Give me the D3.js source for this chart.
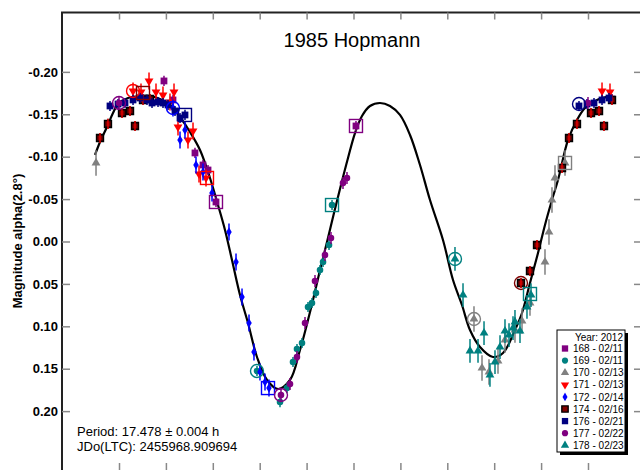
<!DOCTYPE html>
<html><head><meta charset="utf-8">
<script src="https://cdn.jsdelivr.net/npm/d3@7/dist/d3.min.js"></script>
<style>html,body{margin:0;padding:0;background:#fff;overflow:hidden}svg{display:block;font-family:Arial,"Liberation Sans",sans-serif}</style>
</head><body><svg id="c" width="640" height="470"></svg>
<script>
// ---------- data ----------
const title = "1985 Hopmann";
const yLabel = "Magnitude alpha(2.8°)";
const periodText = "Period: 17.478 ± 0.004 h";
const jdText = "JDo(LTC): 2455968.909694";
const legendTitle = "Year: 2012";
const sessions = ["168 - 02/11","169 - 02/11","170 - 02/13","171 - 02/13","172 - 02/14","174 - 02/16","176 - 02/21","177 - 02/22","178 - 02/23"];
const yTicks = [-0.20,-0.15,-0.10,-0.05,0.00,0.05,0.10,0.15,0.20];
const yTickLabels = ["-0.20","-0.15","-0.10","-0.05","0.00","0.05","0.10","0.15","0.20"];
const xTicks = [0.0,0.1,0.2,0.3,0.4,0.5,0.6,0.7,0.8,0.9,1.0];

// phase, magnitude
const s168 = [[0.0512,-0.168],[0.0959,-0.1893],[0.1151,-0.1669],[0.1620,-0.1044],[0.1791,-0.0902],[0.1898,-0.0843],[0.2068,-0.0466],[0.5053,-0.1362]];
const s169 = [[0.2942,0.1527],[0.3433,0.1893],[0.3582,0.1728],[0.3710,0.1421],[0.3795,0.1268],[0.3902,0.1197],[0.4030,0.0772],[0.4115,0.0725],[0.4200,0.0607],[0.4286,0.0336],[0.4350,0.0242],[0.4478,0.0041],[0.4542,-0.0430]];
const s170 = [[0.7569,0.0914],[0.7740,0.1492],[0.7889,0.1539],[0.8081,0.1409],[0.8230,0.1162],[0.8443,0.1044],[0.8593,0.0938],[0.8763,0.0725],[0.9083,0.0242],[0.9168,-0.0112],[0.9232,-0.0489],[0.9296,-0.0749],[0.9510,-0.0926]];
const s171 = [[0.0299,-0.1775],[0.0469,-0.1763],[0.0640,-0.1892],[0.0789,-0.1763],[0.0938,-0.1727],[0.1087,-0.1645],[0.1173,-0.1763],[0.1258,-0.1350],[0.1471,-0.1197],[0.1578,-0.1303],[0.1706,-0.0796],[0.1855,-0.0749]];
const s172 = [[0.1151,-0.1574],[0.1301,-0.1197],[0.1407,-0.1315],[0.1642,-0.0902],[0.1791,-0.0820],[0.1983,-0.0572],[0.2345,-0.0112],[0.2495,0.0242],[0.2623,0.0654],[0.2772,0.0961],[0.2878,0.1303],[0.3006,0.1539],[0.3113,0.1657],[0.3198,0.1728]];
const s174 = [[0.9595,-0.1220],[0.9765,-0.1386],[0.0064,-0.1515],[0.0235,-0.1539],[0.0341,-0.1362],[0.0512,-0.1669],[0.0661,-0.1680],[0.8571,0.0489],[0.8763,0.0348],[0.8913,0.0041],[0.9446,-0.0867]];
const s176 = [[0.9808,-0.1598],[0.9979,-0.1621],[0.0128,-0.1633],[0.0299,-0.1669],[0.0448,-0.1692],[0.0597,-0.1669],[0.0704,-0.1633],[0.0832,-0.1645],[0.0938,-0.1633],[0.1045,-0.1610],[0.1194,-0.1539],[0.1301,-0.1456],[0.1407,-0.1492]];
const s177 = [[0.0,-0.1633],[0.3454,0.1810],[0.3646,0.1680],[0.3795,0.1362],[0.3966,0.0961],[0.4179,0.0466],[0.4392,0.0159],[0.4520,-0.0041],[0.4776,-0.0690],[0.4861,-0.0749]];
const s178 = [[0.7164,0.0206],[0.7335,0.0631],[0.7484,0.1291],[0.7655,0.1291],[0.7783,0.1079],[0.7910,0.1574],[0.8017,0.1421],[0.8124,0.1244],[0.8230,0.1056],[0.8316,0.1103],[0.8401,0.1020],[0.8443,0.0949],[0.8550,0.1056],[0.8699,0.0772],[0.8785,0.0631]];
const sessionPoints = [s168,s169,s170,s171,s172,s174,s176,s177,s178];
const sessionErr = [0.006,0.006,0.015,0.010,0.010,0.006,0.006,0.007,0.014];

// first-point highlights: session index, phase, magnitude, shape
const firstPoints = [
 [3,0.0299,-0.1775,"circle"],[5,0.0512,-0.1751,"square"],[7,0.0,-0.1633,"circle"],
 [4,0.1151,-0.1574,"circle"],[6,0.1407,-0.1492,"square"],[3,0.1876,-0.0749,"square"],
 [0,0.2068,-0.0466,"square"],[1,0.2942,0.1527,"circle"],[4,0.3177,0.1728,"square"],
 [7,0.3454,0.1810,"circle"],[1,0.4542,-0.0430,"square"],[0,0.5053,-0.1362,"square"],
 [8,0.7164,0.0206,"circle"],[2,0.7569,0.0914,"circle"],[5,0.8571,0.0489,"circle"],
 [8,0.8763,0.0619,"square"],[2,0.9510,-0.0926,"square"],[6,0.9808,-0.1621,"circle"]
];

// Fourier fit curve samples
const fitPhase = [-0.0512,-0.0405,-0.0256,-0.0128,-0.0021,0.0192,0.0448,0.0661,0.0874,0.1087,0.1301,0.1514,0.1727,0.1940,0.2111,0.2260,0.2409,0.2580,0.2751,0.2942,0.3156,0.3390,0.3646,0.3859,0.4030,0.4136,0.4286,0.4435,0.4584,0.4733,0.4883,0.5032,0.5181,0.5352,0.5565,0.5778,0.5991,0.6205,0.6418,0.6631,0.6908,0.7122,0.7313,0.7484,0.7697,0.7974,0.8188,0.8443,0.8593,0.8763,0.8934,0.9083,0.9232,0.9360,0.9574,0.9765,0.9936,1.0192,1.0512];
const fitMag = [-0.1020,-0.1173,-0.1350,-0.1515,-0.1621,-0.1692,-0.1716,-0.1716,-0.1680,-0.1610,-0.1468,-0.1291,-0.1079,-0.0749,-0.0430,-0.0136,0.0218,0.0631,0.0961,0.1362,0.1633,0.1739,0.1633,0.1280,0.0926,0.0690,0.0336,0.0006,-0.0336,-0.0666,-0.0985,-0.1279,-0.1480,-0.1598,-0.1633,-0.1598,-0.1492,-0.1256,-0.0902,-0.0489,-0.0018,0.0454,0.0749,0.1044,0.1244,0.1362,0.1315,0.1044,0.0843,0.0489,0.0136,-0.0195,-0.0489,-0.0725,-0.1197,-0.1433,-0.1574,-0.1669,-0.1716];

// ---------- styles ----------
const colors = ["#800080","#008080","#808080","#ff0000","#0000ff","#800000","#000080","#800080","#008080"];
const shapes = ["square","circle","triangle","triangleDown","diamond","squareB","square","circle","triangle"];

const svg = d3.select("#c");
const L = 62, R = 641, T = 12.5, B = 471, FR = 644;
const x = d3.scaleLinear().domain([-0.12154, 1.11301]).range([L, R]);
const y = d3.scaleLinear().domain([-0.2700, 0.2706]).range([T, B]);

// frame
svg.append("rect").attr("x",L).attr("y",T).attr("width",FR-L).attr("height",B-T)
  .attr("fill","none").attr("stroke","#222").attr("stroke-width",2);

// axes ticks
const tickColor = "#888";
const gl = svg.append("g").attr("transform",`translate(${L},0)`)
  .call(d3.axisLeft(y).tickValues(yTicks).tickSize(-8).tickPadding(4).tickFormat((d,i)=>yTickLabels[i]));
gl.select(".domain").remove();
gl.selectAll("line").attr("stroke",tickColor).attr("stroke-width",1.5);
gl.selectAll("text").attr("font-size",13).attr("font-weight","bold").attr("fill","#000")
  .attr("font-family","Arial, 'Liberation Sans', sans-serif");
const gr = svg.append("g").attr("transform",`translate(${FR},0)`)
  .call(d3.axisRight(y).tickValues(yTicks).tickSize(-10).tickFormat(""));
gr.select(".domain").remove();
gr.selectAll("text").remove();
gr.selectAll("line").attr("stroke",tickColor).attr("stroke-width",1.5);
const gt = svg.append("g").attr("transform",`translate(0,${T})`)
  .call(d3.axisTop(x).tickValues(xTicks).tickSize(-7).tickFormat(""));
gt.select(".domain").remove();
gt.selectAll("text").remove();
gt.selectAll("line").attr("stroke",tickColor).attr("stroke-width",1.5);
const gb = svg.append("g").attr("transform",`translate(0,${B})`)
  .call(d3.axisBottom(x).tickValues(xTicks).tickSize(-8).tickFormat(""));
gb.select(".domain").remove();
gb.selectAll("text").remove();
gb.selectAll("line").attr("stroke",tickColor).attr("stroke-width",1.5);

// title & labels
svg.append("text").attr("x",352).attr("y",47).attr("text-anchor","middle")
  .attr("font-size",20).attr("fill","#000").text(title);
svg.append("text").attr("transform","translate(22,241) rotate(-90)").attr("text-anchor","middle")
  .attr("font-size",13).attr("font-weight","bold").attr("fill","#000").text(yLabel);
svg.append("text").attr("x",77).attr("y",436).attr("font-size",13).attr("fill","#000").text(periodText);
svg.append("text").attr("x",77).attr("y",451).attr("font-size",13).attr("fill","#000").text(jdText);

// curve
const line = d3.line().x(d=>x(d[0])).y(d=>y(d[1])).curve(d3.curveCatmullRom);
svg.append("path").datum(fitPhase.map((p,i)=>[p,fitMag[i]]))
  .attr("d",line).attr("fill","none").attr("stroke","#000").attr("stroke-width",2.2);

function symPath(shape, size){
  const t = {square:d3.symbolSquare, squareB:d3.symbolSquare, circle:d3.symbolCircle,
    triangle:d3.symbolTriangle, triangleDown:d3.symbolTriangle, diamond:d3.symbolDiamond}[shape];
  return d3.symbol().type(t).size(size)();
}
const symSize = {square:46, squareB:46, circle:34, triangle:34, triangleDown:34, diamond:26};

// points with wrap-around (phase -0.05 .. 1.05)
const pts = [];
sessionPoints.forEach((arr,si)=>{
  arr.forEach(([p,m])=>{
    [p-1,p,p+1].forEach(q=>{ if(q>=-0.052 && q<=1.052) pts.push({si,p:q,m}); });
  });
});
const gp = svg.append("g");
pts.forEach(d=>{
  const cx = x(d.p), cy = y(d.m), e = sessionErr[d.si];
  gp.append("line").attr("x1",cx).attr("x2",cx).attr("y1",y(d.m-e)).attr("y2",y(d.m+e))
    .attr("stroke",colors[d.si]).attr("stroke-width",1.5);
  const sh = shapes[d.si];
  const rot = sh==="triangleDown" ? " rotate(180)" : "";
  gp.append("path").attr("d",symPath(sh,symSize[sh]))
    .attr("transform",`translate(${cx},${cy})${rot}`)
    .attr("fill",colors[d.si])
    .attr("stroke",sh==="squareB"?"#000":"none").attr("stroke-width",1.6);
  if(sh==="squareB"){
    gp.append("line").attr("x1",cx).attr("x2",cx).attr("y1",y(d.m-e)).attr("y2",y(d.m+e))
      .attr("stroke","#ff0000").attr("stroke-width",1.2);
  }
});
// open highlight markers
firstPoints.forEach(([si,p,m,sh])=>{
  const cx = x(p), cy = y(m);
  if(sh==="circle") gp.append("circle").attr("cx",cx).attr("cy",cy).attr("r",6.5)
    .attr("fill","none").attr("stroke",colors[si]).attr("stroke-width",1.4);
  else gp.append("rect").attr("x",cx-6.5).attr("y",cy-6.5).attr("width",13).attr("height",13)
    .attr("fill","none").attr("stroke",colors[si]).attr("stroke-width",1.4);
});

// legend
const lg = svg.append("g");
lg.append("rect").attr("x",560).attr("y",333).attr("width",68).attr("height",122).attr("fill","#000");
lg.append("rect").attr("x",557).attr("y",330).attr("width",68).attr("height",122)
  .attr("fill","#fff").attr("stroke","#000").attr("stroke-width",1);
lg.append("text").attr("x",623).attr("y",340.5).attr("text-anchor","end").attr("font-size",10).text(legendTitle);
sessions.forEach((s,i)=>{
  const cy = 348.5 + i*12.1;
  const sh = shapes[i];
  const rot = sh==="triangleDown" ? " rotate(180)" : "";
  lg.append("path").attr("d",symPath(sh,sh.startsWith("square")?40:(sh==="diamond"?22:30)))
    .attr("transform",`translate(565,${cy})${rot}`).attr("fill",colors[i])
    .attr("stroke",sh==="squareB"?"#000":"none").attr("stroke-width",1.4);
  lg.append("text").attr("x",573).attr("y",cy+3.6).attr("font-size",10).text(s);
});
</script></body></html>
